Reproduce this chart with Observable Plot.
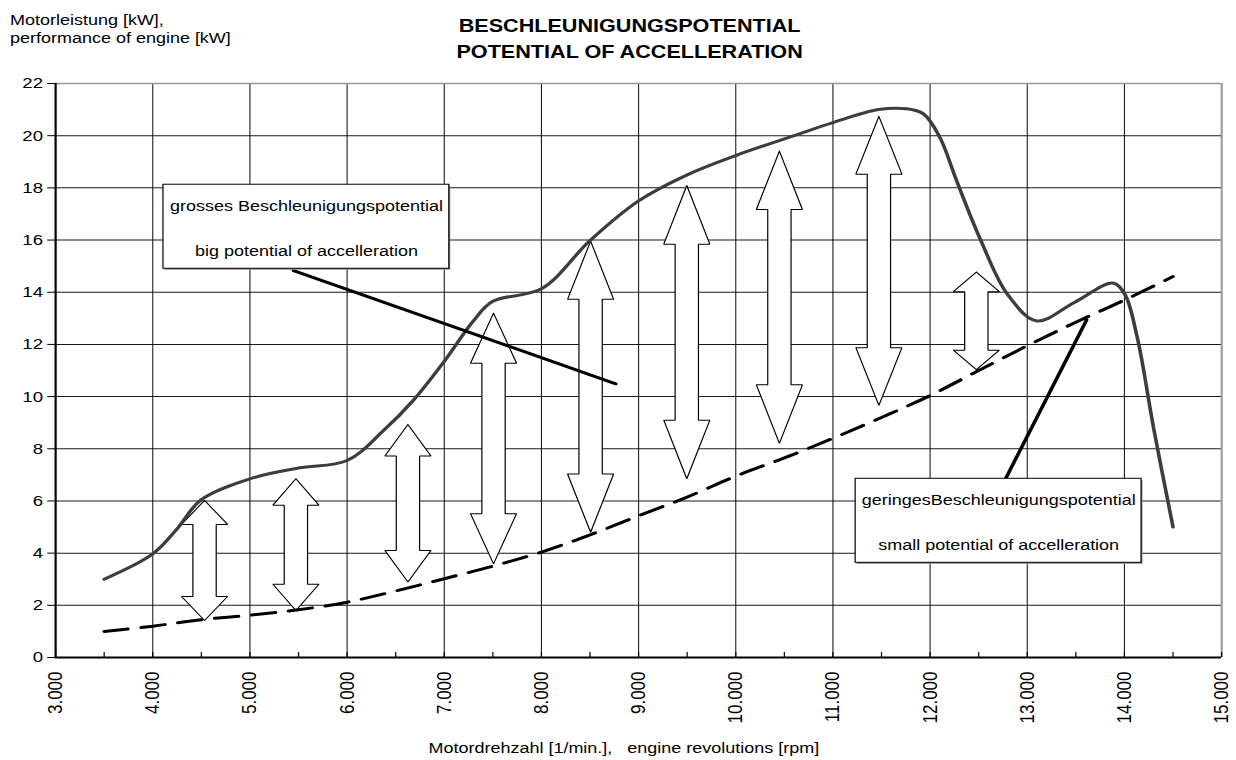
<!DOCTYPE html>
<html>
<head>
<meta charset="utf-8">
<script src="https://cdn.jsdelivr.net/npm/d3@7"></script>
<script src="https://cdn.jsdelivr.net/npm/@observablehq/plot@0.6"></script>
<style>
  html, body { margin: 0; padding: 0; background: #fff; overflow: hidden; }
  #chart svg { display: block; }
</style>
</head>
<body>
<div id="chart"></div>
<script>
// ---------------- data ----------------
const titleLines = ["BESCHLEUNIGUNGSPOTENTIAL", "POTENTIAL OF ACCELLERATION"];
const yLabelLines = ["Motorleistung [kW],", "performance of engine [kW]"];
const xLabel = "Motordrehzahl [1/min.],   engine revolutions [rpm]";

const xTicks = [3000, 4000, 5000, 6000, 7000, 8000, 9000, 10000, 11000, 12000, 13000, 14000, 15000];
const xMinorTicks = [3000, 3500, 4000, 4500, 5000, 5500, 6000, 6500, 7000, 7500, 8000, 8500, 9000, 9500, 10000, 10500, 11000, 11500, 12000, 12500, 13000, 13500, 14000, 14500, 15000];
const yTicks = [0, 2, 4, 6, 8, 10, 12, 14, 16, 18, 20, 22];

// engine power curve
const powerRpm = [3500, 4000, 4250, 4500, 5000, 5500, 6000, 6375, 6680, 7000, 7300, 7500, 8000, 8500, 9000, 9500, 10000, 10600, 11000, 11470, 11760, 11930, 12100, 12270, 12520, 12800, 13100, 13480, 13880, 14000, 14130, 14300, 14500];
const powerKw  = [3.0, 3.97, 4.93, 6.05, 6.85, 7.26, 7.55, 8.7, 9.85, 11.35, 12.9, 13.65, 14.13, 15.98, 17.5, 18.5, 19.24, 20.0, 20.5, 21.0, 21.03, 20.84, 19.94, 18.3, 16.0, 13.9, 12.9, 13.6, 14.35, 13.95, 12.3, 8.8, 5.0];

// required power (dashed)
const demandRpm = [3500, 4000, 4500, 5000, 5500, 6000, 6500, 7000, 7500, 8000, 8500, 9000, 9500, 10000, 10500, 11000, 11500, 12000, 12500, 13000, 13500, 14000, 14500];
const demandKw  = [1.0, 1.2, 1.45, 1.62, 1.83, 2.12, 2.55, 3.02, 3.5, 4.04, 4.7, 5.43, 6.15, 6.95, 7.65, 8.4, 9.2, 10.04, 11.0, 11.95, 12.85, 13.7, 14.6];

// double-headed arrows (acceleration reserve)
const arrowRpm  = [4533, 5473, 6626, 7507, 8506, 9496, 10449, 11473, 12476];
const arrowLow  = [1.42, 1.80, 2.89, 3.59, 4.80, 6.85, 8.21, 9.66, 11.03];
const arrowHigh = [6.02, 6.85, 8.93, 13.20, 15.96, 18.09, 19.41, 20.74, 14.77];

// annotation boxes
const noteLine1 = ["grosses Beschleunigungspotential", "geringesBeschleunigungspotential"];
const noteLine2 = ["big potential of accelleration", "small potential of accelleration"];
const noteX1 = [4111, 11235];
const noteX2 = [7053, 14177];
const noteTop = [18.12, 6.85];
const noteBottom = [14.90, 3.63];
// leader lines
const leaderRpm1 = [5449, 12771];
const leaderKw1  = [14.83, 6.81];
const leaderRpm2 = [8765, 13611];
const leaderKw2  = [10.49, 12.94];

// ---------------- build ----------------
const SX = 1.2;                 // horizontal stretch of the reference
const W = 1236 / SX, H = 760;
const de = d3.formatLocale({decimal: ",", thousands: ".", grouping: [3], currency: ["", " €"]});
const fmt = de.format(",");

const power = powerRpm.map((r, i) => ({rpm: r, kw: powerKw[i]}));
const demand = demandRpm.map((r, i) => ({rpm: r, kw: demandKw[i]}));

const HEAD_HALF = 237, SHAFT_HALF = 120, HEAD_FRAC = 0.2;
const arrowPts = [];
arrowRpm.forEach((c, i) => {
  const lo = arrowLow[i], hi = arrowHigh[i], h = (hi - lo) * HEAD_FRAC;
  const pts = [
    [c, hi], [c + HEAD_HALF, hi - h], [c + SHAFT_HALF, hi - h], [c + SHAFT_HALF, lo + h],
    [c + HEAD_HALF, lo + h], [c, lo], [c - HEAD_HALF, lo + h], [c - SHAFT_HALF, lo + h],
    [c - SHAFT_HALF, hi - h], [c - HEAD_HALF, hi - h], [c, hi]
  ];
  pts.forEach(([x, y]) => arrowPts.push({id: i, rpm: x, kw: y}));
});

const notes = noteLine1.map((t, i) => ({
  l1: t, l2: noteLine2[i], x1: noteX1[i], x2: noteX2[i], top: noteTop[i], bottom: noteBottom[i]
}));
const leaders = [];
leaderRpm1.forEach((r, i) => {
  leaders.push({id: i, rpm: r, kw: leaderKw1[i]});
  leaders.push({id: i, rpm: leaderRpm2[i], kw: leaderKw2[i]});
});

const font = "'Liberation Sans', Arial, Helvetica, sans-serif";

const chart = Plot.plot({
  width: W,
  height: H,
  marginLeft: 55 / SX,
  marginRight: 15 / SX,
  marginTop: 83,
  marginBottom: 103,
  style: {fontFamily: font, fontSize: "15px", color: "black", background: "white"},
  x: {domain: [3000, 15000]},
  y: {domain: [0, 22]},
  marks: [
    Plot.gridX({ticks: xTicks, stroke: "black", strokeOpacity: 0.9, strokeWidth: 0.9}),
    Plot.gridY({ticks: yTicks, stroke: "black", strokeOpacity: 0.9, strokeWidth: 1}),
    Plot.ruleY([22], {stroke: "#999", strokeWidth: 1.6}),
    Plot.ruleX([15000], {stroke: "#999", strokeWidth: 1.6}),
    // arrows
    Plot.line(arrowPts, {x: "rpm", y: "kw", z: "id", fill: "white", stroke: "black", strokeWidth: 1, strokeLinejoin: "miter", curve: "linear"}),
    // required power (dashed)
    Plot.line(demand, {x: "rpm", y: "kw", stroke: "black", strokeWidth: 3, strokeDasharray: "20,11", curve: "catmull-rom"}),
    // engine power
    Plot.line(power, {x: "rpm", y: "kw", stroke: "#3d3d3d", strokeWidth: 3, curve: "catmull-rom"}),
    // leader lines
    Plot.line(leaders, {x: "rpm", y: "kw", z: "id", stroke: "black", strokeWidth: 3, curve: "linear"}),
    // annotation boxes
    Plot.rect(notes, {x1: "x1", x2: "x2", y1: "bottom", y2: "top", fill: "#888", dx: 1.2, dy: 1.5}),
    Plot.rect(notes, {x1: "x1", x2: "x2", y1: "bottom", y2: "top", fill: "white", stroke: "black", strokeWidth: 1}),
    Plot.text(notes, {x: d => (d.x1 + d.x2) / 2, y: d => (d.top + d.bottom) / 2, text: "l1", dy: -16, lineAnchor: "bottom", fontSize: 15, fill: "black"}),
    Plot.text(notes, {x: d => (d.x1 + d.x2) / 2, y: d => (d.top + d.bottom) / 2, text: "l2", dy: 29, lineAnchor: "bottom", fontSize: 15, fill: "black"}),
    // axes
    Plot.ruleX([3000], {stroke: "black", strokeWidth: 1.8}),
    Plot.ruleY([0], {stroke: "black", strokeWidth: 2}),
    Plot.axisX({ticks: xMinorTicks, tickSize: 5, dy: -5, fill: "none", label: null}),
    Plot.axisX({ticks: xTicks, tickSize: 0, tickPadding: 14, tickRotate: -90, tickFormat: fmt, fontSize: 17, label: null}),
    Plot.axisY({ticks: yTicks, tickSize: 6.5, tickPadding: 4, fontSize: 15.5, label: null}),
    // titles and axis labels
    Plot.text([titleLines[0]], {text: d => d, frameAnchor: "top", dx: -7.5, dy: -52, lineAnchor: "bottom", fontWeight: "bold", fontSize: 18, fill: "black"}),
    Plot.text([titleLines[1]], {text: d => d, frameAnchor: "top", dx: -7.5, dy: -25.5, lineAnchor: "bottom", fontWeight: "bold", fontSize: 18, fill: "black"}),
    Plot.text([yLabelLines[0]], {text: d => d, frameAnchor: "top-left", textAnchor: "start", dx: -38, dy: -59, lineAnchor: "bottom", fontSize: 15, fill: "black"}),
    Plot.text([yLabelLines[1]], {text: d => d, frameAnchor: "top-left", textAnchor: "start", dx: -38, dy: -40.5, lineAnchor: "bottom", fontSize: 15, fill: "black"}),
    Plot.text([xLabel], {text: d => d, frameAnchor: "bottom", dx: -12.3, dy: 95, lineAnchor: "bottom", fontSize: 15, fill: "black"})
  ]
});

// stretch horizontally like the reference picture
chart.setAttribute("width", 1236);
chart.setAttribute("height", 760);
chart.setAttribute("preserveAspectRatio", "none");
chart.style.maxWidth = "none";
chart.style.width = "1236px";
chart.style.height = "760px";
chart.querySelectorAll("text").forEach(t => t.setAttribute("xml:space", "preserve"));
chart.querySelectorAll("text").forEach(t => t.style.whiteSpace = "pre");
document.getElementById("chart").appendChild(chart);
</script>
</body>
</html>
